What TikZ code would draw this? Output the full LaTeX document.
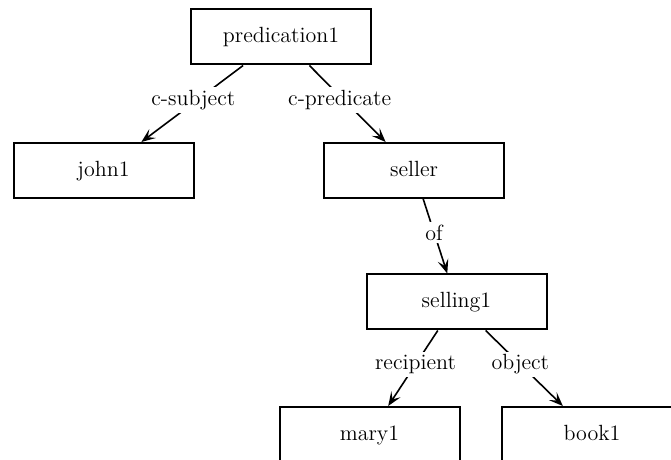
\documentclass[tikz,border=0pt]{standalone}
\usetikzlibrary{arrows.meta}
\begin{document}
\begin{tikzpicture}[x=0.5pt,y=-0.5pt,
  concept/.style={draw,line width=1pt,minimum width=90pt,minimum height=27.5pt,
    inner sep=0pt,text height=1.7ex,text depth=0.4ex,
    font=\fontsize{11}{13}\selectfont},
  rel/.style={line width=0.8pt,-{Stealth[length=7pt,width=5.5pt,inset=3pt]}},
  rellabel/.style={fill=white,inner sep=1.5pt,pos=0.45,font=\fontsize{11}{13}\selectfont}]
  \useasboundingbox (0,0) rectangle (671,460);
  \clip (0,0) rectangle (671,460);
  % concept boxes
  \node[concept] (pred)    at (281,37)      {predication1};
  \node[concept] (john)    at (103.5,170.5) {john1};
  \node[concept] (seller)  at (414,170.5)   {seller};
  \node[concept] (selling) at (456.5,302)   {selling1};
  \node[concept] (mary)    at (369.5,434.5) {mary1};
  \node[concept] (book)    at (592,434.5)   {book1};
  % labelled relations
  \draw[rel] (pred) -- node[rellabel,xshift=-2pt] {c-subject} (john);
  \draw[rel] (pred) -- node[rellabel,xshift=-2pt] {c-predicate} (seller);
  \draw[rel] (seller) -- node[rellabel] {of} (selling);
  \draw[rel] (selling) -- node[rellabel] {recipient} (mary);
  \draw[rel] (selling) -- node[rellabel] {object} (book);
\end{tikzpicture}
\end{document}
